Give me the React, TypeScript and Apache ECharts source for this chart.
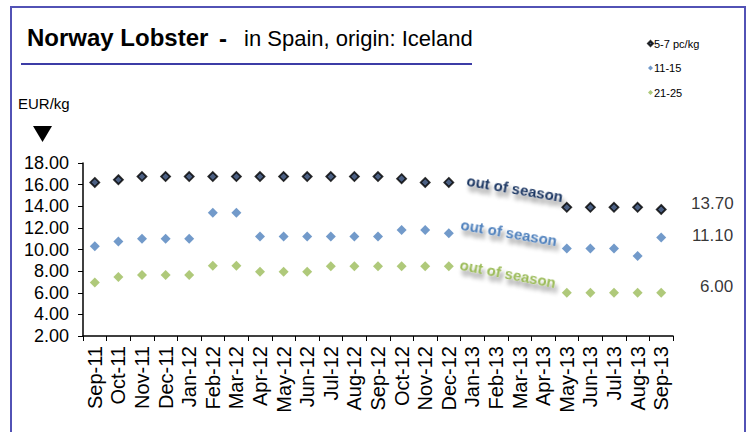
import React, { useEffect, useRef } from "react";
import * as echarts from "echarts";

const categories = [
  "Sep-11", "Oct-11", "Nov-11", "Dec-11", "Jan-12", "Feb-12", "Mar-12", "Apr-12", "May-12",
  "Jun-12", "Jul-12", "Aug-12", "Sep-12", "Oct-12", "Nov-12", "Dec-12", "Jan-13", "Feb-13",
  "Mar-13", "Apr-13", "May-13", "Jun-13", "Jul-13", "Aug-13", "Sep-13",
];

const size57: (number | null)[] = [
  16.2, 16.45, 16.75, 16.75, 16.75, 16.75, 16.75, 16.75, 16.75, 16.75, 16.75, 16.75, 16.75,
  16.55, 16.2, 16.2, null, null, null, null, 13.9, 13.9, 13.9, 13.9, 13.7,
];
const size1115: (number | null)[] = [
  10.3, 10.75, 11.0, 11.0, 11.0, 13.4, 13.4, 11.2, 11.2, 11.2, 11.2, 11.2, 11.2,
  11.8, 11.8, 11.5, null, null, null, null, 10.1, 10.1, 10.1, 9.4, 11.1,
];
const size2125: (number | null)[] = [
  6.95, 7.45, 7.65, 7.65, 7.65, 8.5, 8.5, 7.95, 7.95, 7.95, 8.45, 8.45, 8.45,
  8.45, 8.45, 8.45, null, null, null, null, 6.0, 6.0, 6.0, 6.0, 6.0,
];

const seriesNames = ["5-7 pc/kg", "11-15", "21-25"];
const annotation = "out of season";

const NAVY = "#1f3864";
const BLUE = "#4f81bd";
const GREEN = "#9bbb59";
const FONT = "'Liberation Sans', Arial, sans-serif";

function withEndLabel(values: (number | null)[], offsetY: number) {
  const last = values.length - 1;
  return values.map((v, i) =>
    i === last && v !== null
      ? {
          value: v,
          label: {
            show: true,
            position: "right",
            align: "right",
            distance: 67,
            offset: [0, offsetY],
            formatter: (p: any) => Number(p.value).toFixed(2),
            fontSize: 17,
            fontFamily: FONT,
            color: "#000",
          },
        }
      : v
  );
}

export default function App() {
  const ref = useRef<HTMLDivElement>(null);

  useEffect(() => {
    if (!ref.current) return;
    const chart = echarts.init(ref.current, null, { renderer: "svg" });
    const shadow = {
      textShadowColor: "rgba(0,0,0,0.45)",
      textShadowBlur: 4,
      textShadowOffsetX: 3,
      textShadowOffsetY: 5,
    };
    chart.setOption({
      animation: false,
      backgroundColor: "#ffffff",
      textStyle: { fontFamily: FONT },
      legend: {
        orient: "vertical",
        left: 642,
        top: 33,
        itemGap: 13.5,
        itemWidth: 5,
        itemHeight: 5,
        icon: "diamond",
        data: seriesNames,
        textStyle: { fontSize: 11, color: "#000", fontFamily: FONT, padding: [0, 0, 0, -4] },
      },
      grid: { left: 83, right: 80, top: 163, bottom: 96, containLabel: false },
      xAxis: {
        type: "category",
        data: categories,
        boundaryGap: true,
        axisLine: { lineStyle: { color: "#000", width: 1.5 } },
        axisTick: { show: true, length: 5, lineStyle: { color: "#000" }, interval: 0 },
        axisLabel: {
          interval: 0,
          rotate: 90,
          fontSize: 20,
          color: "#000",
          margin: 10,
          fontFamily: FONT,
        },
      },
      yAxis: {
        type: "value",
        min: 2,
        max: 18,
        interval: 2,
        axisLine: { show: true, lineStyle: { color: "#000", width: 1.5 } },
        axisTick: { show: true, length: 5, lineStyle: { color: "#000" } },
        splitLine: { show: false },
        axisLabel: {
          fontSize: 18,
          color: "#000",
          margin: 14,
          fontFamily: FONT,
          formatter: (v: number) => v.toFixed(2),
        },
      },
      series: [
        {
          name: seriesNames[0],
          type: "scatter",
          symbol: "diamond",
          symbolSize: 9,
          itemStyle: { color: NAVY, borderColor: "#000", borderWidth: 1.8 },
          data: withEndLabel(size57, -6),
        },
        {
          name: seriesNames[1],
          type: "scatter",
          symbol: "diamond",
          symbolSize: 10,
          itemStyle: { color: BLUE },
          data: withEndLabel(size1115, -2),
        },
        {
          name: seriesNames[2],
          type: "scatter",
          symbol: "diamond",
          symbolSize: 10,
          itemStyle: { color: GREEN },
          data: withEndLabel(size2125, -6),
        },
      ],
      graphic: [
        {
          type: "rect",
          shape: { x: 11, y: 7, width: 734, height: 440 },
          style: { fill: "none", stroke: "#5252b5", lineWidth: 2 },
          silent: true,
        },
        {
          type: "line",
          shape: { x1: 21, y1: 64, x2: 472, y2: 64 },
          style: { stroke: "#3c3ca6", lineWidth: 2 },
        },
        {
          type: "text",
          x: 27,
          y: 37,
          style: {
            text: "Norway Lobster",
            font: `bold 24px ${FONT}`,
            fill: "#000",
            verticalAlign: "middle",
          },
        },
        {
          type: "text",
          x: 219,
          y: 38,
          style: {
            text: "-",
            font: `bold 24px ${FONT}`,
            fill: "#000",
            verticalAlign: "middle",
          },
        },
        {
          type: "text",
          x: 244,
          y: 38,
          style: {
            text: "in Spain, origin: Iceland",
            font: `22px ${FONT}`,
            fill: "#000",
            verticalAlign: "middle",
          },
        },
        {
          type: "text",
          x: 18,
          y: 103,
          style: { text: "EUR/kg", font: `15px ${FONT}`, fill: "#000", verticalAlign: "middle" },
        },
        {
          type: "polygon",
          shape: { points: [[33, 126], [52, 126], [42.5, 142]] },
          style: { fill: "#000" },
        },
        {
          type: "text",
          x: 515,
          y: 188,
          rotation: -0.17,
          style: {
            text: annotation,
            font: `bold 15px ${FONT}`,
            fill: NAVY,
            align: "center",
            verticalAlign: "middle",
            ...shadow,
          },
        },
        {
          type: "text",
          x: 509,
          y: 232,
          rotation: -0.17,
          style: {
            text: annotation,
            font: `bold 15px ${FONT}`,
            fill: BLUE,
            align: "center",
            verticalAlign: "middle",
            ...shadow,
          },
        },
        {
          type: "text",
          x: 508,
          y: 273,
          rotation: -0.19,
          style: {
            text: annotation,
            font: `bold 15px ${FONT}`,
            fill: GREEN,
            align: "center",
            verticalAlign: "middle",
            ...shadow,
          },
        },
      ],
    });
    return () => chart.dispose();
  }, []);

  return (
    <div
      ref={ref}
      style={{ position: "absolute", left: 0, top: 0, width: 753, height: 432, background: "#fff" }}
    />
  );
}
